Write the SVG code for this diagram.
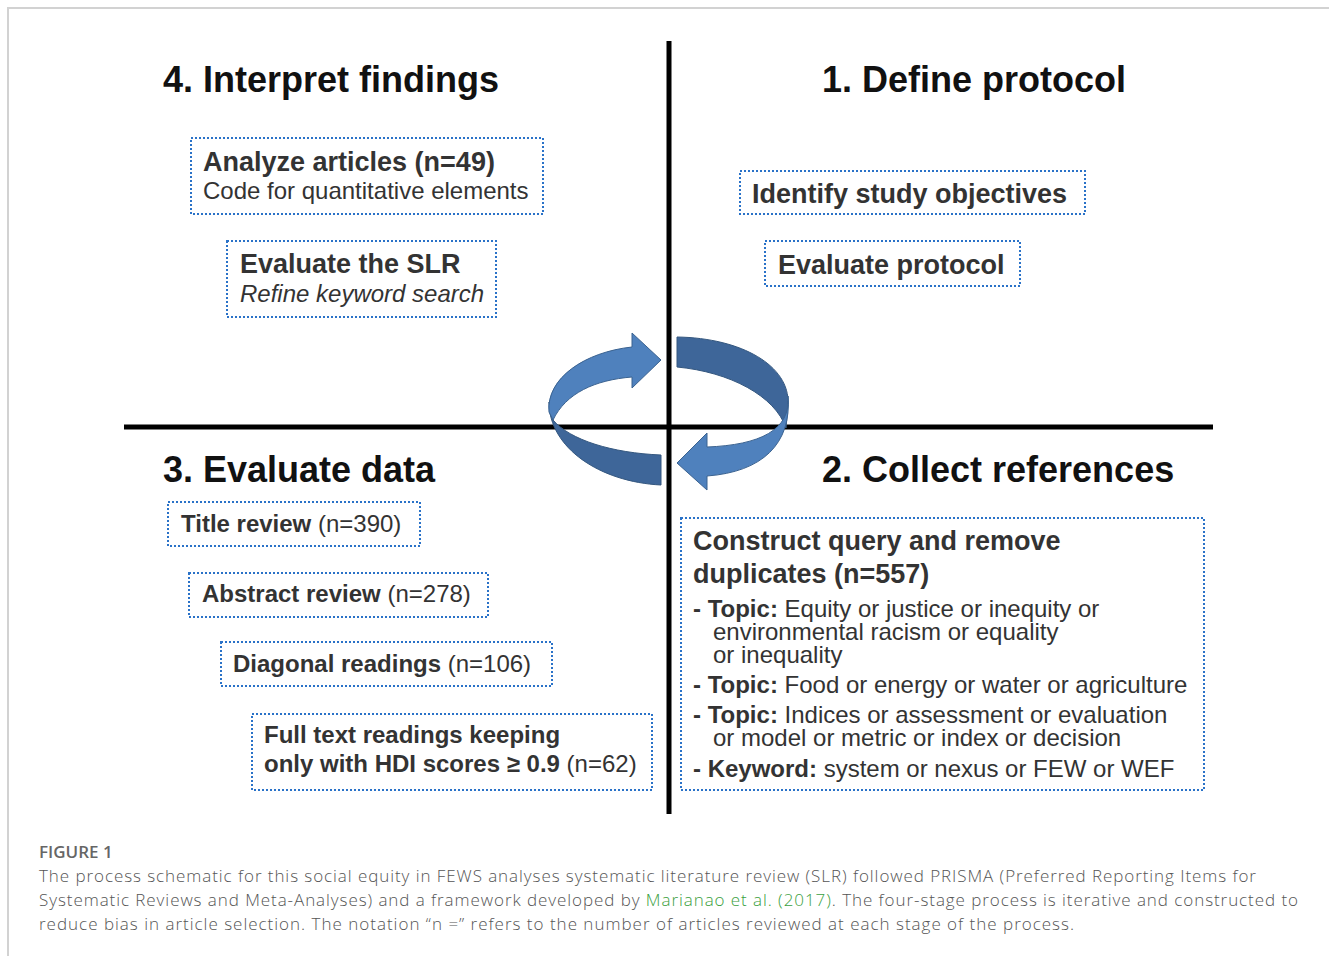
<svg xmlns="http://www.w3.org/2000/svg" width="1329" height="956" viewBox="0 0 1329 956">
<style>
.title{font-family:"Liberation Sans",Arial,sans-serif;font-weight:bold;font-size:36px;fill:#111}
.b{font-family:"Liberation Sans",Arial,sans-serif;font-weight:bold;font-size:27px;fill:#333}
.r{font-family:"Liberation Sans",Arial,sans-serif;font-size:24px;fill:#333}
.s{font-family:"Liberation Sans",Arial,sans-serif;font-size:24px;fill:#333}
.bs{font-weight:bold}
.box{fill:#fff;stroke:#2a72c8;stroke-width:2;stroke-dasharray:2 2}
.axis{stroke:#000;stroke-width:5}
.light{fill:#4f81bd;stroke:#3a6290;stroke-width:1}
.dark{fill:#3e6699;stroke:#34577f;stroke-width:1}
.cap{font-family:"Open Sans","Liberation Sans",sans-serif;font-weight:300;font-size:17px;fill:#555}
.caph{font-family:"Open Sans","Liberation Sans",sans-serif;font-weight:600;font-size:17px;fill:#666}
</style>
<rect width="1329" height="956" fill="#fff"/>
<path d="M8,956 V8 H1329" fill="none" stroke="#d2d2d2" stroke-width="2"/>

<g id="connectors">
  <line class="axis" x1="669" y1="41" x2="669" y2="814"/>
  <line class="axis" x1="124" y1="427" x2="1213" y2="427"/>
</g>

<g id="cycle">
  <path class="dark" d="M549,402 C549,448 600,482 661,485 L661,455 C612,453 570,440 553,420 Z"/>
  <path class="light" d="M549,412 C546,378 585,352 632,347 L632,333 L661,360 L632,388 L632,377 C595,380 566,393 553,420 Z"/>
  <path class="dark" d="M677,337 C742,338 790,366 788,404 L786,428 C775,396 730,372 677,367 Z"/>
  <path class="light" d="M788,396 C791,430 760,445 707,447 L707,433 L677,463 L707,490 L707,476 C762,472 792,444 788,396 Z"/>
</g>

<g id="q4">
  <text class="title" x="163" y="92">4. Interpret findings</text>
</g>
<g id="analyze">
  <rect class="box" x="191" y="138" width="352" height="76"/>
  <text class="b" x="203" y="171">Analyze articles (n=49)</text>
  <text class="r" x="203" y="199">Code for quantitative elements</text>
</g>
<g id="evalslr">
  <rect class="box" x="227" y="241" width="269" height="76"/>
  <text class="b" x="240" y="273">Evaluate the SLR</text>
  <text class="r" x="240" y="302" font-style="italic">Refine keyword search</text>
</g>

<g id="q1">
  <text class="title" x="822" y="92">1. Define protocol</text>
</g>
<g id="identify">
  <rect class="box" x="740" y="171" width="345" height="43"/>
  <text class="b" x="752" y="203">Identify study objectives</text>
</g>
<g id="evalprot">
  <rect class="box" x="765" y="241" width="255" height="45"/>
  <text class="b" x="778" y="274">Evaluate protocol</text>
</g>

<g id="q3">
  <text class="title" x="163" y="482">3. Evaluate data</text>
</g>
<g id="title">
  <rect class="box" x="168" y="502" width="252" height="44"/>
  <text class="s" x="181" y="532"><tspan class="bs">Title review </tspan>(n=390)</text>
</g>
<g id="abstract">
  <rect class="box" x="189" y="573" width="299" height="44"/>
  <text class="s" x="202" y="602"><tspan class="bs">Abstract review </tspan>(n=278)</text>
</g>
<g id="diagonal">
  <rect class="box" x="221" y="642" width="331" height="44"/>
  <text class="s" x="233" y="672"><tspan class="bs">Diagonal readings </tspan>(n=106)</text>
</g>
<g id="fulltext">
  <rect class="box" x="252" y="714" width="400" height="76"/>
  <text class="s" x="264" y="743"><tspan class="bs">Full text readings keeping</tspan></text>
  <text class="s" x="264" y="772"><tspan class="bs">only with HDI scores ≥ 0.9 </tspan>(n=62)</text>
</g>

<g id="q2">
  <text class="title" x="822" y="482">2. Collect references</text>
</g>
<g id="construct">
  <rect class="box" x="681" y="518" width="523" height="272"/>
  <text class="b" x="693" y="550">Construct query and remove</text>
  <text class="b" x="693" y="583">duplicates (n=557)</text>
  <text class="s" x="693" y="617"><tspan class="bs">- Topic: </tspan>Equity or justice or inequity or</text>
  <text class="s" x="713" y="640">environmental racism or equality</text>
  <text class="s" x="713" y="663">or inequality</text>
  <text class="s" x="693" y="693"><tspan class="bs">- Topic: </tspan>Food or energy or water or agriculture</text>
  <text class="s" x="693" y="723"><tspan class="bs">- Topic: </tspan>Indices or assessment or evaluation</text>
  <text class="s" x="713" y="746">or model or metric or index or decision</text>
  <text class="s" x="693" y="777"><tspan class="bs">- Keyword: </tspan>system or nexus or FEW or WEF</text>
</g>

<g id="caption">
  <text class="caph" x="39" y="858">FIGURE 1</text>
  <text class="cap" x="39" y="882" textLength="1217" lengthAdjust="spacing">The process schematic for this social equity in FEWS analyses systematic literature review (SLR) followed PRISMA (Preferred Reporting Items for</text>
  <text class="cap" x="39" y="906" textLength="1259" lengthAdjust="spacing">Systematic Reviews and Meta-Analyses) and a framework developed by <tspan fill="#3aa040">Marianao et al. (2017)</tspan>. The four-stage process is iterative and constructed to</text>
  <text class="cap" x="39" y="930" textLength="1035" lengthAdjust="spacing">reduce bias in article selection. The notation “n =” refers to the number of articles reviewed at each stage of the process.</text>
</g>
</svg>
